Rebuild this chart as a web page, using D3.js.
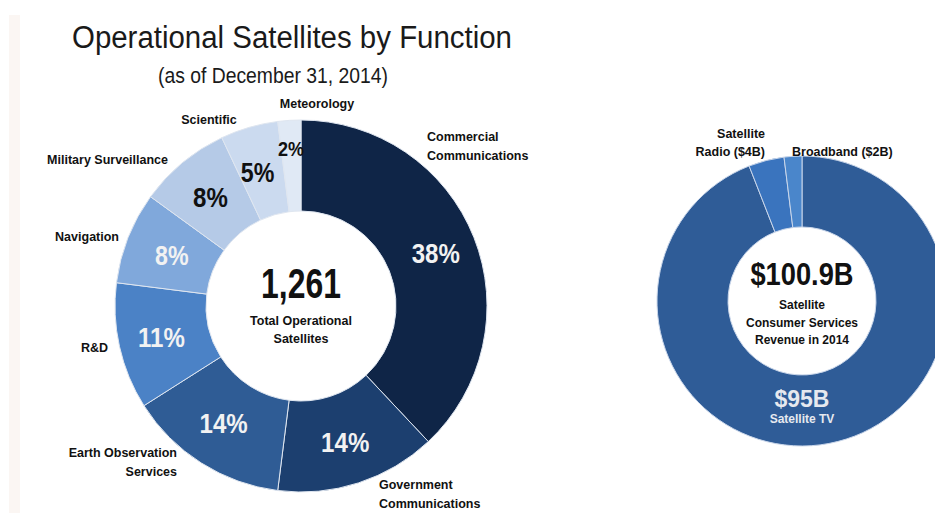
<!DOCTYPE html>
<html>
<head>
<meta charset="utf-8">
<script src="https://cdn.jsdelivr.net/npm/d3@7"></script>
<style>
  html, body { margin: 0; padding: 0; background: #ffffff; }
  svg { display: block; }
  .lbl { font-family: "Liberation Sans", Arial, sans-serif; font-weight: bold; }
  .title { font-family: "Liberation Sans", Arial, sans-serif; }
</style>
</head>
<body>
<svg id="chart" width="935" height="513"></svg>
<script>
// Operational satellites by function (percent of 1,261)
const functions = ["Commercial Communications", "Government Communications", "Earth Observation Services",
  "R&D", "Navigation", "Military Surveillance", "Scientific", "Meteorology"];
const functionShares = [38, 14, 14, 11, 8, 8, 5, 2];
const functionColors = ["#0f2547", "#1c3f6f", "#2f5c95", "#4b82c6", "#80a8db", "#b5cae7", "#cbdaef", "#e0e9f5"];
const functionTextColors = ["#f2f2f2", "#f2f2f2", "#f2f2f2", "#f2f2f2", "#f2f2f2", "#111111", "#111111", "#111111"];
const totalSatellites = "1,261";

// Satellite consumer services revenue, 2014 ($B)
const services = ["Satellite TV", "Satellite Radio", "Broadband"];
const serviceRevenue = [95, 4, 2];
const serviceColors = ["#2f5c97", "#3a74be", "#4a86cb"];
const totalRevenue = "$100.9B";

const svg = d3.select("#chart");

// condensed text: horizontally squeezed around its anchor point
function narrowText(parent, x, y, str, size, sx, fill, anchor) {
  return parent.append("text").attr("class", "lbl")
    .attr("transform", `translate(${x},${y}) scale(${sx},1)`)
    .attr("text-anchor", anchor || "middle")
    .attr("font-size", size).attr("fill", fill).text(str);
}

// faint page edge
svg.append("rect").attr("x", 9).attr("y", 15).attr("width", 11).attr("height", 498).attr("fill", "#fbf6f3");

// titles
svg.append("text").attr("class", "title").attr("x", 292).attr("y", 48)
  .attr("text-anchor", "middle").attr("font-size", 31).attr("fill", "#1a1a1a")
  .attr("textLength", 440).attr("lengthAdjust", "spacingAndGlyphs")
  .text("Operational Satellites by Function");
svg.append("text").attr("class", "title").attr("x", 273).attr("y", 83)
  .attr("text-anchor", "middle").attr("font-size", 22).attr("fill", "#1a1a1a")
  .attr("textLength", 230).attr("lengthAdjust", "spacingAndGlyphs")
  .text("(as of December 31, 2014)");

// ---- left donut ----
const L = { cx: 301, cy: 306, r0: 95, r1: 186 };
const gL = svg.append("g").attr("transform", `translate(${L.cx},${L.cy})`);
const pieL = d3.pie().sort(null).value(d => d.v);
const arcsL = pieL(functions.map((f, i) => ({ f, v: functionShares[i], i })));
const arcL = d3.arc().innerRadius(L.r0).outerRadius(L.r1);
gL.selectAll("path").data(arcsL).join("path")
  .attr("d", arcL)
  .attr("fill", d => functionColors[d.data.i])
  .attr("stroke", "#dfe6f0").attr("stroke-width", 1);

// percent labels inside the ring (radius and angular nudge per slice)
const pctRadius = [145, 143, 140, 143, 139, 142, 141, 158];
const pctNudge = [0, 0, 0.02, 0, 0, 0, -0.03, 0];
const pctSize = [28, 28, 28, 28, 27, 28, 27, 21];
arcsL.forEach(d => {
  const i = d.data.i;
  const a = (d.startAngle + d.endAngle) / 2 + pctNudge[i];
  const r = pctRadius[i];
  narrowText(gL, Math.sin(a) * r, -Math.cos(a) * r + pctSize[i] * 0.36, d.data.v + "%",
    pctSize[i], 0.86, functionTextColors[i]);
});

// category labels around the ring
const catLabels = [
  { lines: ["Commercial", "Communications"], x: 427, y: 141, anchor: "start" },
  { lines: ["Government", "Communications"], x: 379, y: 489, anchor: "start" },
  { lines: ["Earth Observation", "Services"], x: 177, y: 457, anchor: "end" },
  { lines: ["R&D"], x: 108, y: 352, anchor: "end" },
  { lines: ["Navigation"], x: 119, y: 241, anchor: "end" },
  { lines: ["Military Surveillance"], x: 168, y: 164, anchor: "end" },
  { lines: ["Scientific"], x: 209, y: 124, anchor: "middle" },
  { lines: ["Meteorology"], x: 317, y: 108, anchor: "middle" }
];
catLabels.forEach(c => {
  const t = svg.append("text").attr("class", "lbl").attr("font-size", 12.5)
    .attr("fill", "#111").attr("text-anchor", c.anchor);
  c.lines.forEach((ln, k) => t.append("tspan").attr("x", c.x).attr("y", c.y + k * 18.5).text(ln));
});

// centre text
narrowText(svg, L.cx, 298, totalSatellites, 42, 0.76, "#111");
svg.append("text").attr("class", "lbl").attr("x", L.cx).attr("y", 325)
  .attr("text-anchor", "middle").attr("font-size", 12.5).attr("fill", "#111").text("Total Operational");
svg.append("text").attr("class", "lbl").attr("x", L.cx).attr("y", 343)
  .attr("text-anchor", "middle").attr("font-size", 12.5).attr("fill", "#111").text("Satellites");

// ---- right donut ----
const R = { cx: 802, cy: 301, r0: 74, r1: 145 };
const gR = svg.append("g").attr("transform", `translate(${R.cx},${R.cy})`);
const arcsR = d3.pie().sort(null).value(d => d.v)(services.map((s, i) => ({ s, v: serviceRevenue[i], i })));
const arcR = d3.arc().innerRadius(R.r0).outerRadius(R.r1);
gR.selectAll("path").data(arcsR).join("path")
  .attr("d", arcR)
  .attr("fill", d => serviceColors[d.data.i])
  .attr("stroke", "#c9d6ea").attr("stroke-width", 1);

narrowText(svg, R.cx, 285, totalRevenue, 31, 0.88, "#111");
["Satellite", "Consumer Services", "Revenue in 2014"].forEach((ln, k) => {
  svg.append("text").attr("class", "lbl").attr("x", R.cx).attr("y", 309 + k * 17.5)
    .attr("text-anchor", "middle").attr("font-size", 12).attr("fill", "#111").text(ln);
});
svg.append("text").attr("class", "lbl").attr("x", R.cx).attr("y", 407)
  .attr("text-anchor", "middle").attr("font-size", 23).attr("fill", "#e6e9ef").text("$" + serviceRevenue[0] + "B");
svg.append("text").attr("class", "lbl").attr("x", R.cx).attr("y", 423)
  .attr("text-anchor", "middle").attr("font-size", 12).attr("fill", "#e6e9ef").text(services[0]);

const radio = svg.append("text").attr("class", "lbl").attr("font-size", 12.5).attr("fill", "#111").attr("text-anchor", "end");
radio.append("tspan").attr("x", 765).attr("y", 138).text("Satellite");
radio.append("tspan").attr("x", 765).attr("y", 156).text("Radio ($" + serviceRevenue[1] + "B)");
svg.append("text").attr("class", "lbl").attr("x", 792).attr("y", 156)
  .attr("font-size", 12.5).attr("fill", "#111").text("Broadband ($" + serviceRevenue[2] + "B)");
</script>
</body>
</html>
